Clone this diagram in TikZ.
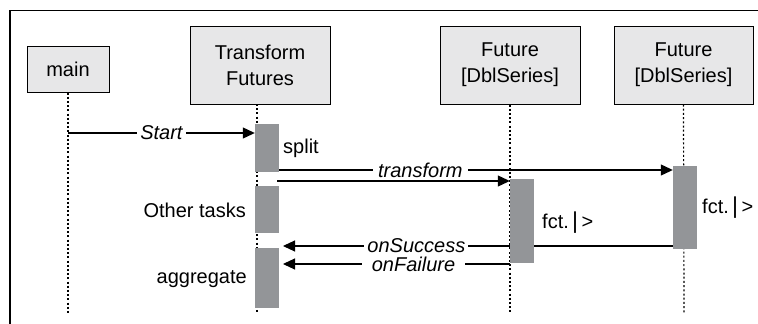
\documentclass[tikz,border=0pt]{standalone}
\usepackage{fontspec}
\setmainfont{Liberation Sans}
\usetikzlibrary{arrows.meta,backgrounds}
\definecolor{boxfill}{HTML}{E7E7E8}
\definecolor{barfill}{HTML}{939598}
\begin{document}
\begin{tikzpicture}[x=1pt,y=-1pt, font=\fontsize{20}{26}\selectfont,
 actor/.style={draw, line width=1pt, fill=boxfill, align=center, inner sep=0pt},
 actbar/.style={fill=barfill, minimum width=24pt, inner sep=0pt},
 life/.style={line width=1.2pt, dash pattern=on 2pt off 2.2pt},
 msg/.style={line width=1.1pt, -{Triangle[length=12pt,width=11pt]}},
 lbl/.style={fill=white, inner xsep=3pt, inner ysep=1pt, font=\fontsize{20}{26}\selectfont\itshape}]
\useasboundingbox (0,0) rectangle (758,324);
\draw[line width=1.2pt] (10,324) -- (10,10.5) -- (758,10.5);

% actors
\node[actor, minimum width=82pt, minimum height=46pt] (main) at (68,69) {main};
\node[actor, minimum width=140pt, minimum height=78pt] (tf) at (260,65) {Transform\\Futures};
\node[actor, minimum width=140pt, minimum height=78pt] (fa) at (510,65) {Future\\{}[DblSeries]};
\node[actor, minimum width=139pt, minimum height=78pt] (fb) at (683.5,65) {Future\\{}[DblSeries]};

% activation bars
\node[actbar, minimum height=48pt] (split) at (267,148) {};
\node[actbar, minimum height=47pt] (other) at (267,209.5) {};
\node[actbar, minimum height=60pt] (agg) at (267,278) {};
\node[actbar, minimum height=84pt] (ba) at (522,221) {};
\node[actbar, minimum height=83pt] (bb) at (685,207.5) {};

% bar labels
\node[anchor=base west, inner sep=0pt] (lsplit) at (283,153) {split};
\node[anchor=base east, inner sep=0pt] (lother) at (246,217) {Other tasks};
\node[anchor=base east, inner sep=0pt] (lagg) at (247,283) {aggregate};
\node[anchor=base west, inner sep=0pt] (lfa) at (542,228) {fct.\,{\fontsize{23}{26}\selectfont|}\,>};
\node[anchor=base west, inner sep=0pt] (lfb) at (702,213) {fct.\,{\fontsize{23}{26}\selectfont|}\,>};

% lifeline ends
\coordinate (mainB) at (68,313);
\coordinate (tfT) at (257,104);
\coordinate (tfB) at (257,313);
\coordinate (faB) at (510,313);
\coordinate (fbB) at (684,313);

% message points
\coordinate (s0) at (68,133);
\coordinate (t1) at (279,170);
\coordinate (t2) at (277,181);
\coordinate (r1) at (673,246);
\coordinate (r2) at (283,246);
\coordinate (q1) at (510,264);
\coordinate (q2) at (283,264);

\begin{scope}[on background layer]
\draw[life] (main.south) -- (mainB);
\draw[life] (tfT) -- (tfB);
\draw[life] (fa.south) -- (faB);
\draw[life] (fb.south) -- (fbB);

\draw[msg] (s0) -- (s0 -| split.west) node[lbl, pos=0.5] {Start};
\draw[msg] (t1) -- (t1 -| bb.west) node[lbl, pos=0.359, inner xsep=5pt] {transform};
\draw[msg] (t2) -- (t2 -| ba.west);
\draw[msg] (r1) -- (r2) node[lbl, pos=0.658] {onSuccess};
\draw[msg] (q1) -- (q2) node[lbl, pos=0.425, inner xsep=10pt] {onFailure};
\end{scope}
\end{tikzpicture}
\end{document}
